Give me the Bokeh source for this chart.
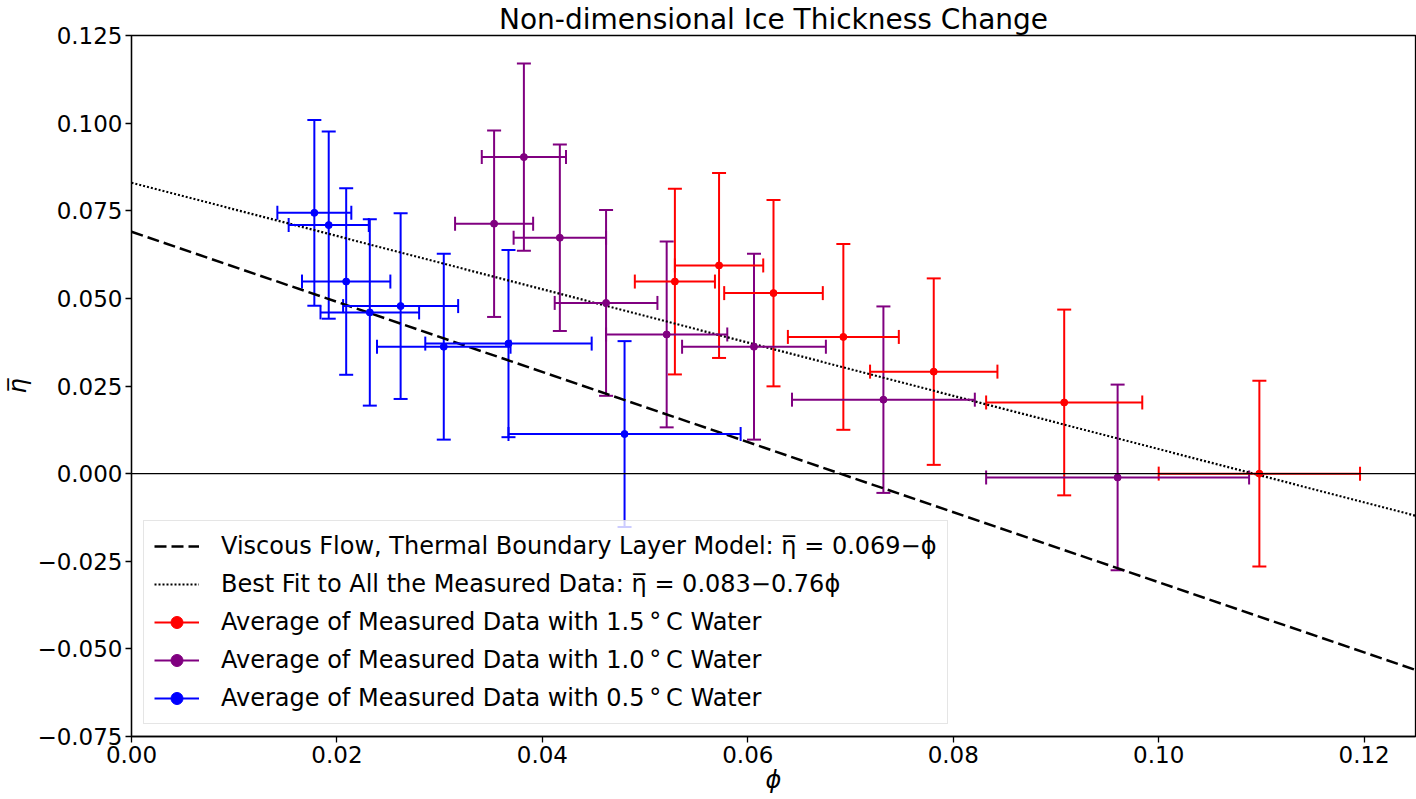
import numpy as np
from bokeh.plotting import figure
from bokeh.models import (ColumnDataSource, Whisker, TeeHead, Legend, LegendItem,
                          Span, FixedTicker, CustomJSTickFormatter, Range1d)
from bokeh.embed import file_html
from bokeh.resources import INLINE

# averaged measurements: phi (x), eta bar (y) and their half error widths
red_phi = [0.0529, 0.0572, 0.0625, 0.0693, 0.0781, 0.0908, 0.1098]
red_phi_err = [0.0039, 0.0043, 0.0048, 0.0054, 0.0062, 0.0076, 0.0098]
red_eta = [0.0548, 0.0594, 0.0515, 0.0390, 0.0291, 0.0203, 0.0000]
red_eta_err = [0.0265, 0.0264, 0.0266, 0.0265, 0.0266, 0.0265, 0.0265]

purple_phi = [0.0353, 0.0382, 0.0417, 0.0462, 0.0521, 0.0606, 0.0732, 0.0960]
purple_phi_err = [0.0038, 0.0041, 0.0045, 0.0050, 0.0059, 0.0070, 0.0089, 0.0128]
purple_eta = [0.0713, 0.0903, 0.0673, 0.0487, 0.0397, 0.0362, 0.0211, -0.0011]
purple_eta_err = [0.0266, 0.0267, 0.0266, 0.0265, 0.0265, 0.0265, 0.0266, 0.0265]

blue_phi = [0.0178, 0.0192, 0.0209, 0.0232, 0.0262, 0.0304, 0.0367, 0.0480]
blue_phi_err = [0.0036, 0.0039, 0.0043, 0.0048, 0.0056, 0.0065, 0.0081, 0.0113]
blue_eta = [0.0744, 0.0709, 0.0548, 0.0460, 0.0478, 0.0362, 0.0371, 0.0113]
blue_eta_err = [0.0265, 0.0267, 0.0266, 0.0266, 0.0265, 0.0265, 0.0267, 0.0265]

# eta = intercept + slope * phi
model_intercept, model_slope = 0.069, -1.0
fit_intercept, fit_slope = 0.083, -0.76

x_ticks = [0.00, 0.02, 0.04, 0.06, 0.08, 0.10, 0.12]
y_ticks = [-0.075, -0.050, -0.025, 0.000, 0.025, 0.050, 0.075, 0.100, 0.125]
x_lo, x_hi = 0.0, 0.125
y_lo, y_hi = -0.075, 0.125

FONT = "DejaVu Sans"
ETA = "\u03b7\u0305"

p = figure(width=1416, height=799, output_backend="svg", toolbar_location=None,
           title="Non-dimensional Ice Thickness Change",
           x_range=Range1d(x_lo, x_hi), y_range=Range1d(y_lo, y_hi),
           min_border_left=131, min_border_right=1, min_border_top=0, min_border_bottom=63)
p.title.align = "center"
p.title.text_font = FONT
p.title.text_font_size = "28px"
p.title.text_font_style = "normal"
p.title.text_color = "black"
p.title.standoff = 0
p.xgrid.visible = False
p.ygrid.visible = False
p.outline_line_color = "black"
p.outline_line_width = 1.3

p.xaxis.axis_label = "\u03d5"
p.yaxis.axis_label = ETA
for ax in (p.xaxis, p.yaxis):
    ax.axis_label_text_font = FONT
    ax.axis_label_text_font_size = "24px"
    ax.axis_label_text_font_style = "italic"
    ax.axis_label_text_color = "black"
    ax.major_label_text_font = FONT
    ax.major_label_text_font_size = "23px"
    ax.major_label_text_color = "black"
    ax.axis_line_color = "black"
    ax.axis_line_width = 1.3
    ax.major_tick_line_color = "black"
    ax.major_tick_line_width = 1.3
    ax.major_tick_out = 6
    ax.major_tick_in = 0
    ax.minor_tick_line_color = None
    ax.major_label_standoff = 3
p.xaxis.axis_label_standoff = 0
p.yaxis.axis_label_standoff = 2
p.xaxis.ticker = FixedTicker(ticks=x_ticks)
p.yaxis.ticker = FixedTicker(ticks=y_ticks)
p.xaxis.formatter = CustomJSTickFormatter(
    code="const v = Math.abs(tick) < 1e-12 ? 0 : tick; return v.toFixed(2).replace('-', '\\u2212');")
p.yaxis.formatter = CustomJSTickFormatter(
    code="const v = Math.abs(tick) < 1e-12 ? 0 : tick; return v.toFixed(3).replace('-', '\\u2212');")

p.add_layout(Span(location=0, dimension="width", line_color="black", line_width=1.2))

line_x = np.array([x_lo, x_hi])
model_r = p.line(line_x, model_intercept + model_slope * line_x,
                 line_color="black", line_width=2.5, line_dash="12 5")
fit_r = p.line(line_x, fit_intercept + fit_slope * line_x,
               line_color="black", line_width=2.2, line_dash="2 2")


def add_series(phi, phi_err, eta, eta_err, color):
    phi, phi_err = np.array(phi), np.array(phi_err)
    eta, eta_err = np.array(eta), np.array(eta_err)
    src = ColumnDataSource(dict(x=phi, y=eta, xl=phi - phi_err, xu=phi + phi_err,
                                yl=eta - eta_err, yu=eta + eta_err))
    hbar = p.segment("xl", "y", "xu", "y", source=src, line_color=color, line_width=2)
    p.add_layout(Whisker(source=src, base="y", lower="xl", upper="xu", dimension="width",
                         line_alpha=0,
                         lower_head=TeeHead(size=14, line_color=color, line_width=2),
                         upper_head=TeeHead(size=14, line_color=color, line_width=2)))
    p.add_layout(Whisker(source=src, base="x", lower="yl", upper="yu", dimension="height",
                         line_color=color, line_width=2,
                         lower_head=TeeHead(size=14, line_color=color, line_width=2),
                         upper_head=TeeHead(size=14, line_color=color, line_width=2)))
    dots = p.scatter("x", "y", source=src, size=7, color=color)
    return [hbar, dots]


red_r = add_series(red_phi, red_phi_err, red_eta, red_eta_err, "#ff0000")
purple_r = add_series(purple_phi, purple_phi_err, purple_eta, purple_eta_err, "#800080")
blue_r = add_series(blue_phi, blue_phi_err, blue_eta, blue_eta_err, "#0000ff")

deg = "\u2009\u00b0\u2009C"
legend = Legend(items=[
    LegendItem(label="Viscous Flow, Thermal Boundary Layer Model: " + ETA + " = 0.069\u2212\u03d5",
               renderers=[model_r]),
    LegendItem(label="Best Fit to All the Measured Data: " + ETA + " = 0.083\u22120.76\u03d5",
               renderers=[fit_r]),
    LegendItem(label="Average of Measured Data with 1.5" + deg + " Water", renderers=red_r),
    LegendItem(label="Average of Measured Data with 1.0" + deg + " Water", renderers=purple_r),
    LegendItem(label="Average of Measured Data with 0.5" + deg + " Water", renderers=blue_r),
], location="bottom_left", margin=12, padding=10, spacing=8,
    glyph_width=45, glyph_height=30, label_height=30, label_standoff=22,
    label_text_font=FONT, label_text_font_size="24px", label_text_color="black",
    border_line_color="#cccccc", border_line_width=1.5,
    background_fill_color="white", background_fill_alpha=0.8)
p.add_layout(legend)

open("out.html", "w").write(file_html(p, INLINE))
